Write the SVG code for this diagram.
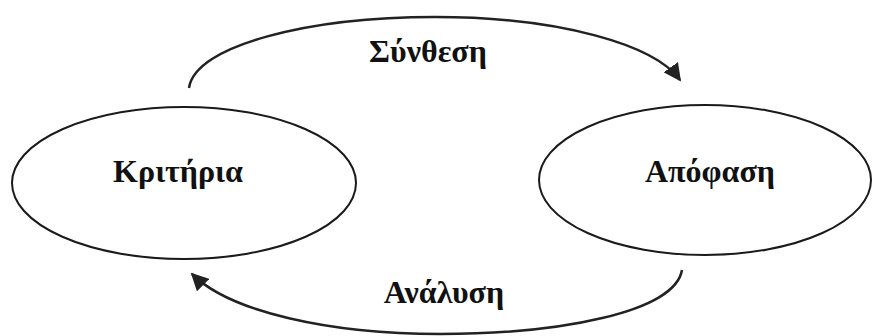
<svg xmlns="http://www.w3.org/2000/svg" width="873" height="336" viewBox="0 0 873 336">
<style>
.node{fill:#fff;stroke:#1a1a1a;stroke-width:2}
.lbl{font-family:"Liberation Serif",serif;font-weight:bold;font-size:32px;fill:#111;text-anchor:middle}
.conn{fill:none;stroke:#222;stroke-width:2.5}
</style>
<defs>
<marker id="arr" viewBox="0 0 10 10" refX="9" refY="5" markerWidth="7" markerHeight="7" orient="auto" markerUnits="strokeWidth">
<path d="M0,0 L10,5 L0,10 z" fill="#222"/>
</marker>
</defs>
<rect width="873" height="336" fill="#fff"/>
<g id="connectors">
<path class="conn" d="M189,88 C195,45 310,17 435,17 C560,17 655,45 680,80" marker-end="url(#arr)"/>
<path class="conn" d="M682,270 C675,312 560,334 440,334 C330,334 230,312 192,274" marker-end="url(#arr)"/>
<text class="lbl" x="428" y="62">Σύνθεση</text>
<text class="lbl" x="444" y="303">Ανάλυση</text>
</g>
<g id="kritiria">
<ellipse class="node" cx="184" cy="183" rx="172" ry="76"/>
<text class="lbl" x="178" y="182">Κριτήρια</text>
</g>
<g id="apofasi">
<ellipse class="node" cx="705" cy="180" rx="166" ry="75"/>
<text class="lbl" x="710" y="182">Απόφαση</text>
</g>
</svg>
